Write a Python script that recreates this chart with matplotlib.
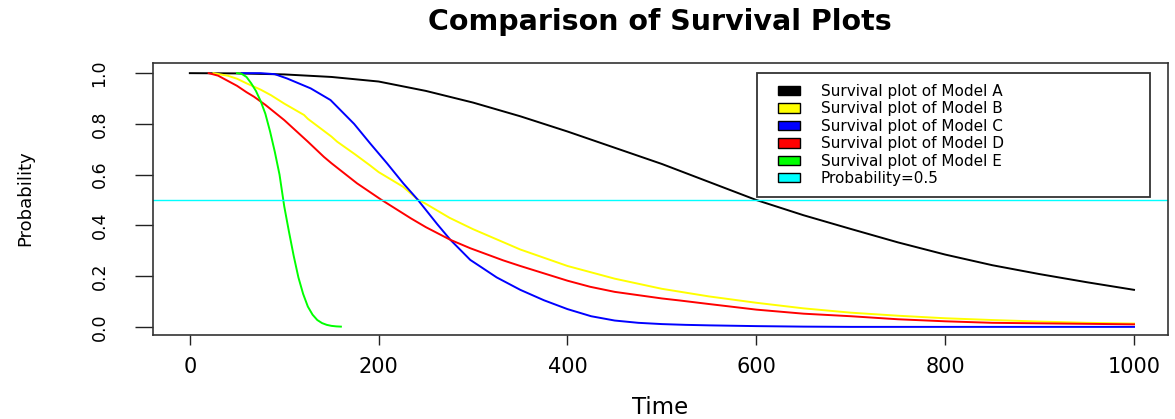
import matplotlib
matplotlib.use("Agg")
import matplotlib.pyplot as plt
import matplotlib.patches as mpatches
from matplotlib.legend_handler import HandlerPatch

# ---- data ----
time_a = [0, 50, 100, 150, 200, 250, 300, 350, 400, 450, 500, 550, 600, 650,
          700, 750, 800, 850, 900, 950, 1000]
surv_a = [1.0, 0.999, 0.995, 0.985, 0.967, 0.93, 0.884, 0.83, 0.77, 0.706, 0.642,
          0.571, 0.50, 0.44, 0.386, 0.333, 0.285, 0.243, 0.208, 0.176, 0.146]

time_b = [25, 40, 50, 60, 75, 86, 100, 121, 125, 150, 156, 175, 191, 200, 226,
          241, 250, 275, 300, 350, 400, 450, 500, 550, 600, 650, 700, 750, 800,
          850, 900, 950, 1000]
surv_b = [1.0, 0.99, 0.978, 0.96, 0.935, 0.913, 0.88, 0.835, 0.82, 0.75, 0.73,
          0.68, 0.636, 0.61, 0.552, 0.503, 0.485, 0.43, 0.385, 0.305, 0.24, 0.19,
          0.15, 0.12, 0.095, 0.073, 0.056, 0.044, 0.034, 0.027, 0.021, 0.016, 0.013]

time_c = [55, 75, 90, 103, 128, 149, 174, 191, 209, 226, 241, 262, 276, 297,
          308, 325, 350, 375, 400, 425, 450, 475, 500, 525, 550, 600, 650, 700,
          800, 900, 1000]
surv_c = [1.0, 1.0, 0.996, 0.979, 0.94, 0.894, 0.80, 0.723, 0.644, 0.566, 0.503,
          0.405, 0.343, 0.264, 0.237, 0.195, 0.146, 0.105, 0.07, 0.042, 0.025,
          0.016, 0.011, 0.008, 0.006, 0.003, 0.001, 0.0, 0.0, 0.0, 0.0]

time_d = [20, 30, 40, 50, 60, 68, 80, 90, 100, 125, 142, 150, 177, 202, 234,
          250, 276, 297, 332, 350, 400, 424, 450, 500, 519, 550, 600, 650, 700,
          750, 800, 850, 900, 950, 1000]
surv_d = [1.0, 0.99, 0.97, 0.95, 0.925, 0.907, 0.875, 0.845, 0.815, 0.73, 0.67,
          0.645, 0.566, 0.503, 0.428, 0.393, 0.343, 0.31, 0.262, 0.24, 0.182, 0.158,
          0.138, 0.112, 0.104, 0.09, 0.068, 0.052, 0.042, 0.03, 0.022, 0.016,
          0.014, 0.012, 0.01]

time_e = [50, 55, 60, 65, 70, 75, 80, 85, 90, 95, 100, 105, 110, 115, 120, 125,
          130, 135, 140, 145, 150, 155, 160]
surv_e = [1.0, 0.997, 0.985, 0.96, 0.93, 0.89, 0.84, 0.77, 0.69, 0.6, 0.475, 0.375,
          0.28, 0.195, 0.13, 0.08, 0.048, 0.027, 0.015, 0.008, 0.004, 0.002, 0.001]

threshold = 0.5

labels = ["Survival plot of Model A", "Survival plot of Model B",
          "Survival plot of Model C", "Survival plot of Model D",
          "Survival plot of Model E", "Probability=0.5"]
colors = ["#000000", "#FFFF00", "#0000FF", "#FF0000", "#00FF00", "#00FFFF"]

x_ticks = [0, 200, 400, 600, 800, 1000]
y_ticks = [0.0, 0.2, 0.4, 0.6, 0.8, 1.0]
y_tick_labels = ["0.0", "0.2", "0.4", "0.6", "0.8", "1.0"]

# ---- figure ----
W, H = 1175, 419
fig = plt.figure(figsize=(W / 100, H / 100), dpi=100)
ax = fig.add_axes([153 / W, 1 - 335 / H, (1168 - 153) / W, (335 - 63) / H])

series = [(time_a, surv_a), (time_b, surv_b), (time_c, surv_c),
          (time_d, surv_d), (time_e, surv_e)]
for (t, s), c in zip(series, colors[:5]):
    ax.plot(t, s, color=c, lw=1.4, solid_joinstyle="round")
ax.axhline(threshold, color=colors[5], lw=1.0)

ax.set_xlim(-39, 1036)
ax.set_ylim(-0.032, 1.04)

ax.set_xticks(x_ticks)
ax.set_xticklabels([str(v) for v in x_ticks], fontsize=15)
ax.set_yticks(y_ticks)
ax.set_yticklabels(y_tick_labels, fontsize=12.5, rotation=90, va="center")
ax.tick_params(axis="x", length=7.5, width=1.0, pad=8, color="#222222")
ax.tick_params(axis="y", length=13, width=1.0, pad=19, color="#222222")
for sp in ax.spines.values():
    sp.set_linewidth(1.2)
    sp.set_color("#333333")

fig.text(660 / W, 1 - 22 / H, "Comparison of Survival Plots", ha="center",
         va="center", fontsize=20.5, fontweight="bold")
fig.text(660 / W, 1 - 407 / H, "Time", ha="center", va="center", fontsize=16.5)
fig.text(25 / W, 1 - 198 / H, "Probability", ha="center", va="center",
         fontsize=13, rotation=90)

LEG_FS = 11
KEY_SHIFT = 7.2  # points of empty space before each key box
KEY_H = 6.7      # points: height of each key box


def key_box(legend, orig_handle, xdescent, ydescent, width, height, fontsize):
    return mpatches.Rectangle((-xdescent + KEY_SHIFT, -ydescent + (height - KEY_H) / 2),
                              width - KEY_SHIFT, KEY_H)


handles = [mpatches.Patch(facecolor=c, edgecolor="black", linewidth=1.0) for c in colors]
leg = ax.legend(handles, labels, loc="upper left",
                bbox_to_anchor=(757 / W, 1 - 196 / H, (1150 - 757) / W, (196 - 73) / H),
                bbox_transform=fig.transFigure, mode="expand",
                fontsize=LEG_FS, frameon=True, fancybox=False,
                borderpad=0.72, labelspacing=0.16, handlelength=2.09,
                handleheight=0.6, handletextpad=1.37, borderaxespad=0,
                handler_map={mpatches.Patch: HandlerPatch(patch_func=key_box)})
leg.get_frame().set_edgecolor("black")
leg.get_frame().set_linewidth(1.3)

fig.savefig("out.png", dpi=100)
